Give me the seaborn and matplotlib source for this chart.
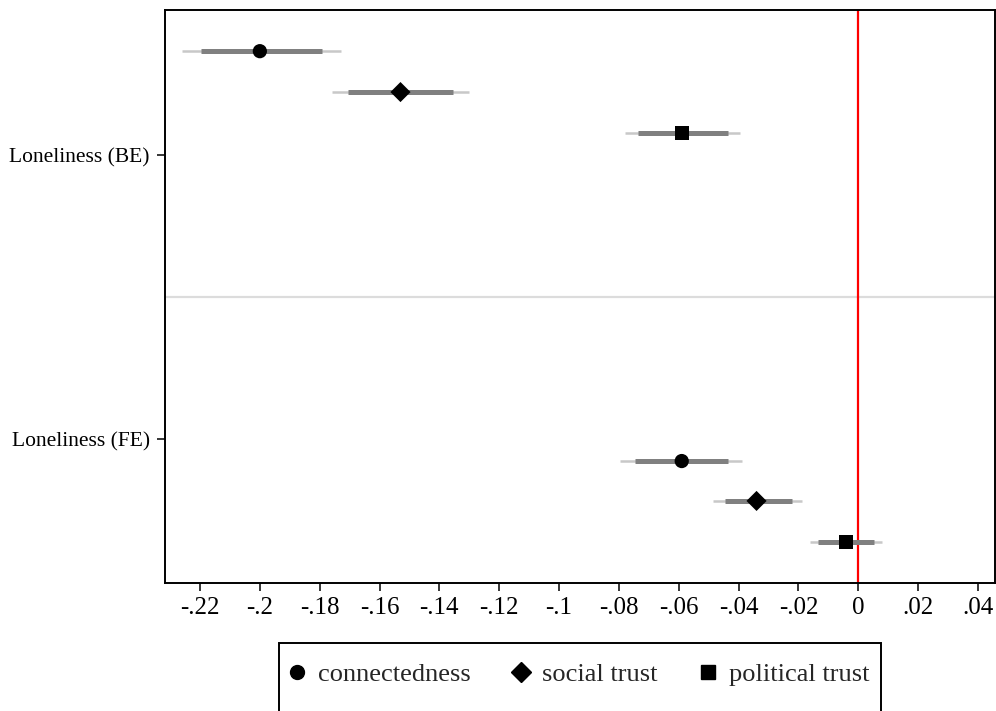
import numpy as np
import pandas as pd
import matplotlib
matplotlib.use("Agg")
import matplotlib.pyplot as plt
import seaborn as sns
from matplotlib.lines import Line2D
from matplotlib.patches import Rectangle

# Style
sns.set_theme(style="white")
plt.rcParams['font.family'] = ['Liberation Serif', 'DejaVu Serif']

# Data
models = ['Loneliness (BE)', 'Loneliness (FE)']
outcomes = ['connectedness', 'social trust', 'political trust']

coef_be = [-0.200, -0.153, -0.059]
coef_fe = [-0.059, -0.034, -0.004]

# inner (thick) interval
inner_lo_be = [-0.2197, -0.1706, -0.0735]
inner_hi_be = [-0.1793, -0.1356, -0.0437]
inner_lo_fe = [-0.0745, -0.0447, -0.0134]
inner_hi_fe = [-0.0434, -0.0220, 0.0053]

# outer (thin) interval
outer_lo_be = [-0.2260, -0.1760, -0.0781]
outer_hi_be = [-0.1730, -0.1302, -0.0394]
outer_lo_fe = [-0.0795, -0.0484, -0.0160]
outer_hi_fe = [-0.0387, -0.0187, 0.0080]

# Build a long table
rows = []
offsets = {0: [-0.366, -0.222, -0.0775], 1: [0.0775, 0.218, 0.363]}
est = {0: (coef_be, inner_lo_be, inner_hi_be, outer_lo_be, outer_hi_be),
       1: (coef_fe, inner_lo_fe, inner_hi_fe, outer_lo_fe, outer_hi_fe)}
for g, model in enumerate(models):
    c, ilo, ihi, olo, ohi = est[g]
    for i, out in enumerate(outcomes):
        rows.append({'model': model, 'outcome': out, 'coef': c[i],
                     'inner_lo': ilo[i], 'inner_hi': ihi[i],
                     'outer_lo': olo[i], 'outer_hi': ohi[i],
                     'y': g + offsets[g][i]})
df = pd.DataFrame(rows)

W, H = 996, 711
fig = plt.figure(figsize=(W / 100, H / 100), dpi=100)
ax = fig.add_axes([165 / W, 1 - 583 / H, (995 - 165) / W, (583 - 10) / H])

# separator between the two models and the zero line
ax.axhline(0.5, color='#dcdcdc', lw=1.6, zorder=0)
ax.axvline(0, color='red', lw=1.6, zorder=1)

# confidence intervals
ax.hlines(df['y'], df['outer_lo'], df['outer_hi'], color='#c8c8c8', lw=1.8, zorder=2)
ax.hlines(df['y'], df['inner_lo'], df['inner_hi'], color='#808080', lw=3.6, zorder=3)

markers = {'connectedness': 'o', 'social trust': 'D', 'political trust': 's'}
sns.scatterplot(data=df, x='coef', y='y', style='outcome', markers=markers,
                style_order=outcomes, color='black', s=105, linewidth=0,
                legend=False, ax=ax, zorder=4)

# axes limits and ticks
ax.set_xlim(-0.2317, 0.0457)
ax.set_ylim(1.507, -0.511)
xt = np.round(np.arange(-0.22, 0.041, 0.02), 2)
ax.set_xticks(xt)
ax.set_xticklabels([('0' if v == 0 else f"{v:g}".replace('0.', '.')) for v in xt], fontsize=18)
ax.set_yticks([0, 1])
ax.set_yticklabels(models, fontsize=15.5)
ax.set_xlabel('')
ax.set_ylabel('')
ax.tick_params(axis='both', which='major', direction='out', length=6, width=1.1,
               color='black', labelcolor='black', bottom=True, left=True)
ax.tick_params(axis='x', pad=4)
ax.tick_params(axis='y', pad=5)
for sp in ax.spines.values():
    sp.set_visible(True)
    sp.set_color('black')
    sp.set_linewidth(1.4)

# legend
handles = [Line2D([], [], marker=markers[o], color='black', linestyle='none', markersize=10)
           for o in outcomes]
fig.legend(handles, outcomes, loc='center', bbox_to_anchor=(0.579, 1 - 674 / H), ncol=3,
           frameon=False, fontsize=19, handletextpad=0.3, columnspacing=1.4,
           handlelength=1.0)
fig.add_artist(Rectangle((279 / W, -0.05), (881 - 279) / W, (1 - 643 / H) + 0.05,
                         transform=fig.transFigure, fill=False, edgecolor='black', lw=1.4))

fig.savefig('out.png', dpi=100, facecolor='white')
